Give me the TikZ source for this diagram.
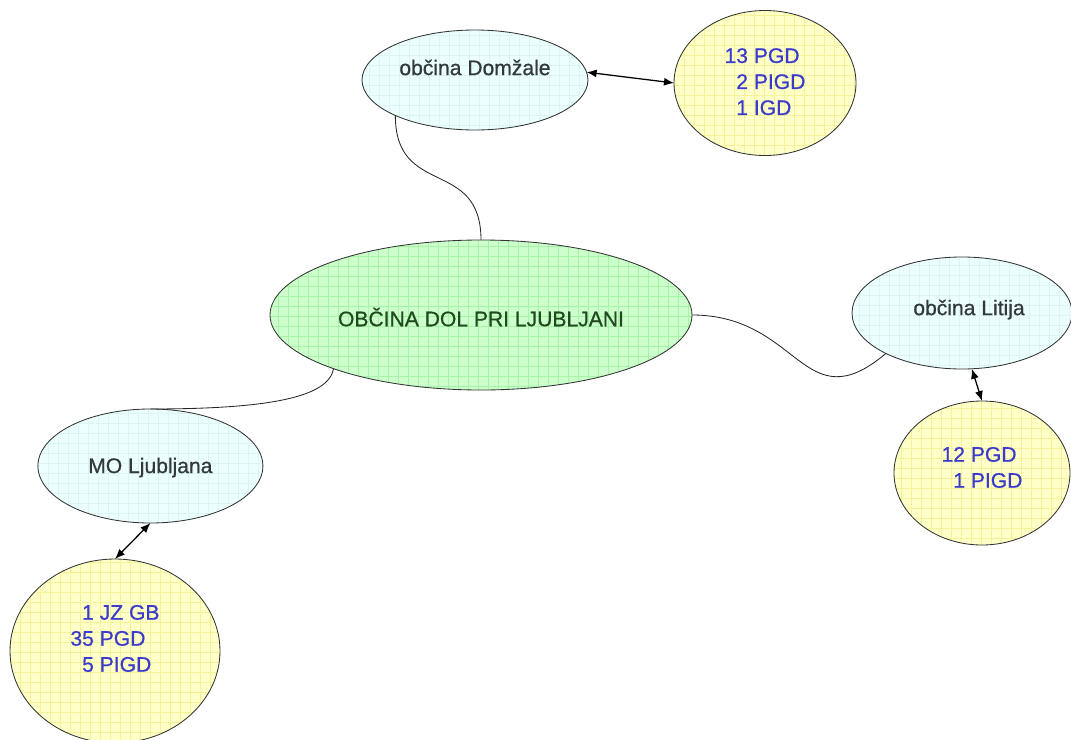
\documentclass[tikz,border=0pt]{standalone}
\usepackage{fontspec}
\setmainfont{Liberation Sans}[FakeBold=0.7]
\usepackage{xcolor}
\usetikzlibrary{shapes.geometric, arrows.meta, positioning}

\definecolor{cenfill}{HTML}{CCFFCC}
\definecolor{cengrid}{HTML}{A6F4A6}
\definecolor{obcfill}{HTML}{EBFFFF}
\definecolor{obcgrid}{HTML}{DCF4F4}
\definecolor{pgdfill}{HTML}{FFFFC8}
\definecolor{pgdgrid}{HTML}{F6F29A}
\definecolor{pgdtext}{HTML}{3A3ACC}
\definecolor{obctext}{HTML}{333838}
\definecolor{centext}{HTML}{1E4A1E}

\begin{document}
\begin{tikzpicture}[
    bubble/.style={ellipse, draw=black!80, line width=0.6pt, inner sep=0pt, outer sep=0pt,
        font=\fontsize{15}{18.5}\selectfont},
    gridfill/.style={path picture={\draw[#1, line width=0.3pt]
        (path picture bounding box.south west) grid[step=0.25]
        (path picture bounding box.north east);}},
    centre/.style={bubble, fill=cenfill, gridfill=cengrid, text=centext},
    obcina/.style={bubble, fill=obcfill, gridfill=obcgrid, text=obctext},
    drustva/.style={bubble, fill=pgdfill, gridfill=pgdgrid, text=pgdtext, align=left},
    link/.style={black!85, line width=0.6pt},
    biarrow/.style={{Latex[length=2.5mm,width=2mm]}-{Latex[length=2.5mm,width=2mm]}, line width=0.9pt},
]
\useasboundingbox (0,0) rectangle (26.775,-18.5);

% Central municipality
\node[centre, minimum width=10.55cm, minimum height=3.75cm, text height=16pt, text depth=0pt]
    (dol) at (12.025,-7.875) {OBČINA DOL PRI LJUBLJANI};

% Neighbouring municipalities
\node[obcina, minimum width=5.65cm, minimum height=2.5cm, text height=13pt, text depth=20pt]
    (domzale) at (11.875,-2.0) {občina Domžale};
\node[obcina, minimum width=5.5cm, minimum height=2.8cm, text height=11pt, text depth=8pt]
    (litija) at (24.05,-7.825) {\hspace{10pt}občina Litija};
\node[obcina, minimum width=5.625cm, minimum height=2.85cm, text height=11pt, text depth=1pt]
    (ljubljana) at (3.76,-11.65) {MO Ljubljana};

% Fire brigades
\node[drustva, minimum width=4.55cm, minimum height=3.625cm, text depth=2pt]
    (pgdDomzale) at (19.125,-2.075) {13 PGD\\\hphantom{0}2 PIGD\\\hphantom{0}1 IGD};
\node[drustva, minimum width=4.4cm, minimum height=3.6cm, text depth=8pt]
    (pgdLitija) at (24.55,-11.825) {12 PGD\\\hphantom{0}1 PIGD};
\node[drustva, minimum width=5.25cm, minimum height=4.6cm, text depth=18pt]
    (pgdLjubljana) at (2.875,-16.275) {\hphantom{0}1 JZ GB\\35 PGD\\\hphantom{0}5 PIGD};

% Links to the centre
\draw[link] (domzale.204) to[out=-90, in=90, looseness=1.4] (dol.north);
\draw[link] (dol.east) to[out=0, in=220, looseness=1.4] (litija.208);
\draw[link] (dol.200) to[out=-100, in=0, out looseness=0.4, in looseness=1.6] (ljubljana.north);

% Arrows to the brigades
\draw[biarrow] (domzale.4) -- (pgdDomzale.west);
\draw[biarrow] (litija.-80) -- (pgdLitija.north);
\draw[biarrow] (ljubljana.south) -- (pgdLjubljana.north);

\end{tikzpicture}
\end{document}
